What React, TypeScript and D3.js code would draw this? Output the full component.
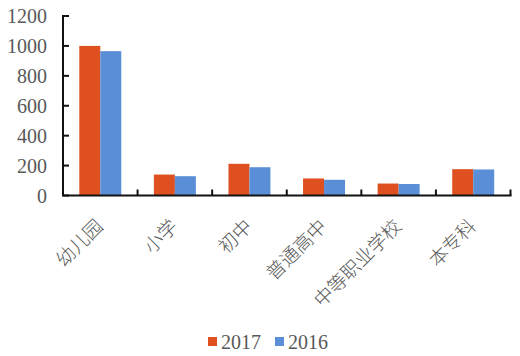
import React from "react";
import * as d3 from "d3";

const categories = ["幼儿园", "小学", "初中", "普通高中", "中等职业学校", "本专科"];
const series = ["2017", "2016"];
const values2017 = [1000, 140, 212, 114, 80, 176];
const values2016 = [965, 129, 189, 105, 77, 174];
const yTicks = [0, 200, 400, 600, 800, 1000, 1200];
const colors = ["#DE5020", "#5A8FD8"];

const W = 520;
const H = 356;
const left = 63;
const right = 510.5;
const top = 16;
const bottom = 195.5;

export default function App() {
  const x = d3.scaleBand<string>().domain(categories).range([left, right]).padding(0);
  const bw = x.bandwidth();
  const x1 = d3.scaleBand<string>().domain(series).range([16.3, bw - 16.3]).padding(0);
  const y = d3.scaleLinear().domain([0, 1200]).range([bottom, top]);
  const data = [values2017, values2016];
  const serifStyle = { fontFamily: "\"Liberation Serif\", \"Times New Roman\", serif", fontSize: "20px" };
  const cjkStyle = { fontFamily: "\"Noto Sans CJK SC\", sans-serif", fontWeight: 300, fontSize: "19px" };

  return (
    <svg width={W} height={H} style={{ position: "absolute", left: 0, top: 0, background: "#fff" }}>
      <rect x={0} y={0} width={W} height={H} fill="#fff" />
      {categories.map((c, i) =>
        series.map((s, j) => (
          <rect
            key={c + s}
            x={(x(c) as number) + (x1(s) as number)}
            y={y(data[j][i])}
            width={x1.bandwidth()}
            height={y(0) - y(data[j][i])}
            fill={colors[j]}
          />
        ))
      )}
      {/* y axis */}
      <line x1={left} x2={left} y1={top - 1} y2={bottom} stroke="#111" strokeWidth={2} />
      {yTicks.map((t) => (
        <g key={t}>
          <line x1={left} x2={left + 6} y1={y(t)} y2={y(t)} stroke="#111" strokeWidth={2} />
          <text x={47} y={y(t)} dy="0.35em" textAnchor="end" style={serifStyle} fill="#595959">
            {t}
          </text>
        </g>
      ))}
      {/* x axis */}
      <line x1={left - 1} x2={right + 1} y1={bottom} y2={bottom} stroke="#111" strokeWidth={2} />
      {categories.map((c) => (
        <line
          key={"tk" + c}
          x1={(x(c) as number) + bw}
          x2={(x(c) as number) + bw}
          y1={bottom}
          y2={bottom - 6}
          stroke="#111"
          strokeWidth={2}
        />
      ))}
      {categories.map((c) => {
        const cx = (x(c) as number) + bw / 2 + 4;
        const cy = bottom + 32;
        return (
          <text
            key={"lb" + c}
            transform={`translate(${cx},${cy}) rotate(-45)`}
            textAnchor="end"
            style={cjkStyle}
            fill="#595959"
          >
            {c}
          </text>
        );
      })}
      {/* legend */}
      {series.map((s, j) => {
        const lx = 208 + j * 67;
        return (
          <g key={"lg" + s}>
            <rect x={lx} y={337} width={9} height={9} fill={colors[j]} />
            <text x={lx + 13} y={349} style={serifStyle} fill="#595959">
              {s}
            </text>
          </g>
        );
      })}
    </svg>
  );
}
